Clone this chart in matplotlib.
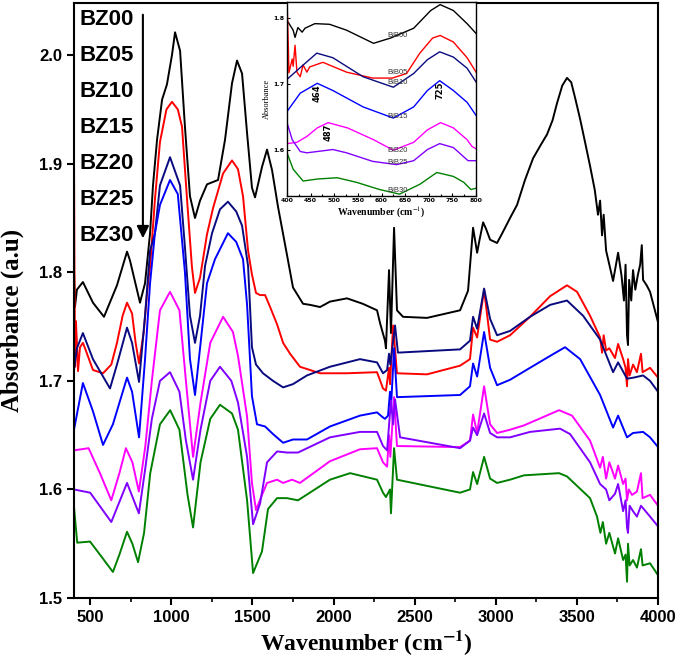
import matplotlib
matplotlib.use("Agg")
import matplotlib.pyplot as plt
from matplotlib.ticker import MultipleLocator

plt.rcParams['mathtext.fontset'] = 'stix'

# main FTIR spectra (wavenumber, absorbance)
bz00_x = [400, 406, 418, 455, 517, 585, 665, 727, 745, 807, 838, 869, 887, 912, 943, 973, 1004, 1023, 1054, 1084,
          1115, 1146, 1177, 1220, 1288, 1331, 1374, 1405, 1436, 1467, 1497, 1516, 1559, 1590, 1621, 1658, 1713,
          1750, 1812, 1855, 1917, 1978, 2083, 2180, 2268, 2287, 2317, 2323, 2342, 2354, 2373, 2391, 2428, 2576,
          2780, 2829, 2860, 2885, 2900, 2922, 2940, 2965, 3008, 3040, 3088, 3131, 3180, 3230, 3280, 3316, 3350,
          3378, 3410, 3439, 3465, 3490, 3520, 3550, 3581, 3610, 3630, 3643, 3655, 3665, 3680, 3700, 3723, 3754,
          3775, 3790, 3800, 3809, 3815, 3822, 3835, 3846, 3860, 3875, 3890, 3900, 3908, 3930, 3951, 4000]
bz00_y = [1.800, 1.768, 1.784, 1.791, 1.772, 1.759, 1.788, 1.819, 1.811, 1.772, 1.790, 1.836, 1.880, 1.922, 1.959,
          1.973, 2.000, 2.021, 2.004, 1.934, 1.870, 1.850, 1.866, 1.881, 1.885, 1.922, 1.974, 1.995, 1.983, 1.928,
          1.878, 1.869, 1.897, 1.913, 1.894, 1.860, 1.816, 1.786, 1.771, 1.770, 1.768, 1.773, 1.776, 1.771, 1.765,
          1.753, 1.737, 1.730, 1.802, 1.744, 1.841, 1.765, 1.759, 1.758, 1.765, 1.783, 1.841, 1.818, 1.830, 1.846,
          1.840, 1.830, 1.827, 1.836, 1.850, 1.862, 1.885, 1.905, 1.918, 1.927, 1.940, 1.956, 1.972, 1.979, 1.975,
          1.960, 1.941, 1.920, 1.898, 1.876, 1.853, 1.866, 1.834, 1.853, 1.820, 1.807, 1.792, 1.818, 1.797, 1.774,
          1.807, 1.742, 1.733, 1.793, 1.774, 1.802, 1.784, 1.797, 1.807, 1.825, 1.793, 1.788, 1.782, 1.754]

bz05_x = [400, 403, 407, 412, 418, 425, 437, 455, 468, 517, 579, 630, 665, 700, 727, 758, 780, 801, 830, 856, 869,
          899, 930, 970, 1004, 1040, 1066, 1097, 1127, 1146, 1177, 1220, 1257, 1319, 1374, 1411, 1442, 1473, 1497,
          1522, 1547, 1578, 1609, 1652, 1689, 1732, 1793, 1917, 2083, 2268, 2305, 2323, 2342, 2348, 2367, 2391,
          2576, 2780, 2841, 2860, 2885, 2928, 2965, 3008, 3088, 3211, 3335, 3439, 3501, 3581, 3643, 3655, 3665,
          3680, 3700, 3735, 3754, 3785, 3800, 3809, 3815, 3825, 3846, 3870, 3895, 3905, 3951, 4000]
bz05_y = [1.911, 1.800, 1.713, 1.755, 1.735, 1.709, 1.731, 1.735, 1.730, 1.710, 1.707, 1.715, 1.735, 1.760, 1.772,
          1.762, 1.735, 1.716, 1.745, 1.790, 1.805, 1.867, 1.920, 1.950, 1.957, 1.950, 1.934, 1.867, 1.805, 1.781,
          1.795, 1.835, 1.859, 1.891, 1.903, 1.895, 1.870, 1.820, 1.798, 1.781, 1.779, 1.779, 1.768, 1.752, 1.735,
          1.725, 1.713, 1.707, 1.707, 1.708, 1.693, 1.691, 1.712, 1.697, 1.751, 1.707, 1.706, 1.714, 1.720, 1.749,
          1.740, 1.784, 1.738, 1.736, 1.742, 1.759, 1.778, 1.788, 1.782, 1.760, 1.740, 1.726, 1.742, 1.728, 1.730,
          1.721, 1.734, 1.720, 1.712, 1.695, 1.720, 1.705, 1.715, 1.708, 1.725, 1.708, 1.712, 1.703]

bz10_x = [400, 418, 455, 517, 622, 665, 727, 758, 801, 838, 869, 899, 930, 992, 1054, 1084, 1115, 1146, 1177, 1208,
          1251, 1300, 1349, 1400, 1436, 1473, 1497, 1522, 1565, 1627, 1689, 1750, 1836, 1978, 2163, 2268, 2305,
          2330, 2342, 2350, 2379, 2397, 2780, 2841, 2860, 2885, 2928, 2965, 3008, 3088, 3211, 3335, 3439, 3538,
          3643, 3723, 3754, 3809, 3850, 3908, 3951, 4000]
bz10_y = [1.710, 1.730, 1.744, 1.720, 1.693, 1.715, 1.749, 1.735, 1.699, 1.760, 1.820, 1.836, 1.880, 1.906, 1.880,
          1.823, 1.760, 1.735, 1.760, 1.806, 1.836, 1.858, 1.865, 1.856, 1.843, 1.806, 1.731, 1.715, 1.707, 1.700,
          1.694, 1.697, 1.705, 1.713, 1.720, 1.717, 1.707, 1.710, 1.725, 1.715, 1.751, 1.726, 1.729, 1.737, 1.759,
          1.748, 1.785, 1.757, 1.742, 1.746, 1.759, 1.770, 1.774, 1.760, 1.738, 1.708, 1.717, 1.702, 1.703, 1.705,
          1.700, 1.690]

bz15_x = [400, 455, 517, 579, 640, 727, 758, 801, 838, 869, 899, 930, 992, 1040, 1084, 1115, 1146, 1177, 1220, 1269,
          1349, 1400, 1442, 1467, 1485, 1497, 1528, 1578, 1627, 1689, 1750, 1836, 1978, 2163, 2268, 2299, 2317,
          2336, 2348, 2354, 2373, 2391, 2780, 2841, 2860, 2885, 2928, 2965, 3008, 3088, 3211, 3335, 3427, 3520,
          3643, 3723, 3754, 3809, 3846, 3908, 3951, 4000]
bz15_y = [1.655, 1.698, 1.672, 1.641, 1.660, 1.703, 1.690, 1.648, 1.720, 1.790, 1.836, 1.862, 1.885, 1.872, 1.800,
          1.720, 1.687, 1.730, 1.790, 1.812, 1.836, 1.828, 1.812, 1.770, 1.720, 1.686, 1.660, 1.658, 1.651, 1.643,
          1.646, 1.646, 1.658, 1.668, 1.671, 1.667, 1.665, 1.668, 1.690, 1.675, 1.730, 1.685, 1.687, 1.695, 1.716,
          1.704, 1.745, 1.712, 1.696, 1.701, 1.712, 1.723, 1.731, 1.720, 1.687, 1.657, 1.668, 1.648, 1.652, 1.653,
          1.648, 1.639]

bz20_x = [400, 490, 560, 630, 680, 720, 760, 800, 840, 880, 930, 992, 1050, 1090, 1134, 1180, 1240, 1319, 1380,
          1411, 1467, 1497, 1522, 1559, 1590, 1652, 1689, 1744, 1793, 1978, 2163, 2268, 2305, 2330, 2342, 2350,
          2373, 2391, 2780, 2841, 2860, 2885, 2928, 2965, 3008, 3088, 3174, 3390, 3470, 3581, 3643, 3660, 3680,
          3700, 3735, 3754, 3785, 3800, 3809, 3820, 3840, 3870, 3895, 3905, 3951, 4000]
bz20_y = [1.636, 1.638, 1.615, 1.590, 1.615, 1.638, 1.625, 1.598, 1.640, 1.700, 1.765, 1.782, 1.765, 1.700, 1.630,
          1.680, 1.735, 1.759, 1.745, 1.723, 1.667, 1.606, 1.581, 1.595, 1.606, 1.609, 1.606, 1.609, 1.606, 1.626,
          1.637, 1.638, 1.625, 1.621, 1.650, 1.630, 1.685, 1.640, 1.639, 1.645, 1.669, 1.652, 1.695, 1.660, 1.652,
          1.655, 1.659, 1.673, 1.668, 1.645, 1.620, 1.630, 1.610, 1.625, 1.610, 1.622, 1.605, 1.610, 1.590, 1.600,
          1.595, 1.598, 1.615, 1.592, 1.595, 1.585]

bz25_x = [400, 500, 630, 727, 800, 840, 880, 930, 992, 1050, 1090, 1134, 1180, 1240, 1300, 1370, 1411, 1467, 1504,
          1547, 1590, 1652, 1713, 1781, 1978, 2163, 2268, 2305, 2330, 2354, 2367, 2379, 2410, 2780, 2841, 2860,
          2885, 2928, 2965, 3008, 3088, 3211, 3396, 3458, 3581, 3643, 3680, 3700, 3735, 3754, 3785, 3800, 3809,
          3815, 3825, 3846, 3870, 3895, 3951, 4000]
bz25_y = [1.600, 1.597, 1.570, 1.606, 1.578, 1.620, 1.665, 1.700, 1.708, 1.690, 1.645, 1.609, 1.655, 1.700, 1.713,
          1.700, 1.680, 1.630, 1.568, 1.587, 1.625, 1.635, 1.634, 1.634, 1.648, 1.653, 1.653, 1.640, 1.636, 1.682,
          1.660, 1.683, 1.648, 1.638, 1.645, 1.657, 1.650, 1.670, 1.652, 1.648, 1.648, 1.653, 1.656, 1.651, 1.625,
          1.605, 1.600, 1.590, 1.596, 1.605, 1.580, 1.590, 1.565, 1.560, 1.585, 1.580, 1.575, 1.585, 1.575, 1.566]

bz30_x = [400, 420, 499, 560, 640, 680, 727, 760, 795, 832, 870, 930, 993, 1050, 1100, 1134, 1180, 1240, 1300, 1374,
          1411, 1467, 1504, 1559, 1596, 1652, 1713, 1781, 1978, 2102, 2268, 2305, 2323, 2348, 2354, 2373, 2391,
          2780, 2841, 2860, 2885, 2928, 2965, 3008, 3088, 3174, 3390, 3439, 3581, 3624, 3645, 3660, 3680, 3700,
          3735, 3754, 3785, 3800, 3809, 3815, 3825, 3846, 3870, 3895, 3905, 3951, 4000]
bz30_y = [1.584, 1.551, 1.552, 1.540, 1.524, 1.540, 1.561, 1.550, 1.533, 1.560, 1.615, 1.660, 1.673, 1.655, 1.595,
          1.565, 1.625, 1.665, 1.678, 1.670, 1.655, 1.590, 1.523, 1.543, 1.582, 1.592, 1.592, 1.590, 1.609, 1.615,
          1.609, 1.597, 1.593, 1.600, 1.578, 1.638, 1.609, 1.597, 1.600, 1.616, 1.605, 1.630, 1.610, 1.606, 1.609,
          1.613, 1.615, 1.612, 1.592, 1.575, 1.560, 1.570, 1.550, 1.560, 1.541, 1.555, 1.535, 1.540, 1.515, 1.550,
          1.530, 1.535, 1.528, 1.545, 1.530, 1.532, 1.521]

# inset 400-800 cm-1
bib00_x = [400, 413, 417, 423, 432, 438, 459, 490, 526, 583, 619, 668, 704, 724, 752, 781, 800]
bib00_y = [1.797, 1.782, 1.771, 1.786, 1.779, 1.785, 1.792, 1.791, 1.782, 1.762, 1.770, 1.785, 1.812, 1.821, 1.812,
           1.792, 1.777]
bib05_x = [400, 403, 404, 411, 413, 417, 421, 428, 434, 442, 448, 476, 526, 581, 623, 653, 681, 708, 724, 752, 781, 800]
bib05_y = [1.830, 1.750, 1.717, 1.738, 1.727, 1.759, 1.718, 1.711, 1.729, 1.718, 1.726, 1.733, 1.718, 1.709, 1.709,
           1.716, 1.747, 1.770, 1.774, 1.764, 1.740, 1.718]
bib10_x = [400, 428, 463, 497, 561, 625, 668, 697, 723, 752, 781, 800]
bib10_y = [1.707, 1.725, 1.747, 1.740, 1.711, 1.695, 1.716, 1.737, 1.749, 1.741, 1.724, 1.703]
bib15_x = [400, 428, 464, 497, 561, 625, 668, 697, 723, 752, 781, 800]
bib15_y = [1.658, 1.686, 1.701, 1.690, 1.665, 1.648, 1.665, 1.690, 1.705, 1.690, 1.672, 1.652]
bib20_x = [400, 421, 442, 464, 487, 528, 583, 625, 668, 697, 725, 752, 781, 791, 800]
bib20_y = [1.609, 1.611, 1.620, 1.633, 1.641, 1.633, 1.615, 1.599, 1.611, 1.630, 1.641, 1.633, 1.615, 1.605, 1.601]
bib25_x = [400, 411, 428, 442, 464, 497, 526, 581, 632, 668, 697, 723, 752, 783, 800]
bib25_y = [1.641, 1.615, 1.597, 1.595, 1.597, 1.600, 1.595, 1.582, 1.577, 1.583, 1.600, 1.609, 1.603, 1.583, 1.583]
bib30_x = [400, 413, 434, 464, 506, 547, 596, 638, 681, 717, 752, 774, 789, 800]
bib30_y = [1.595, 1.570, 1.552, 1.555, 1.557, 1.550, 1.539, 1.532, 1.547, 1.565, 1.559, 1.550, 1.539, 1.541]

names = ['BZ00', 'BZ05', 'BZ10', 'BZ15', 'BZ20', 'BZ25', 'BZ30']
inset_names = ['BiB00', 'BiB05', 'BiB10', 'BiB15', 'BiB20', 'BiB25', 'BiB30']
colors = ['black', '#ff0000', '#0a0a80', '#0000ff', '#ff00ff', '#8000ff', '#008000']
inset_label_y = [1.774, 1.717, 1.702, 1.650, 1.599, 1.580, 1.538]

main = [(bz00_x, bz00_y), (bz05_x, bz05_y), (bz10_x, bz10_y), (bz15_x, bz15_y),
        (bz20_x, bz20_y), (bz25_x, bz25_y), (bz30_x, bz30_y)]
ins = [(bib00_x, bib00_y), (bib05_x, bib05_y), (bib10_x, bib10_y), (bib15_x, bib15_y),
       (bib20_x, bib20_y), (bib25_x, bib25_y), (bib30_x, bib30_y)]

fig = plt.figure(figsize=(6.85, 6.67), dpi=100)
ax = fig.add_axes([0.108, 0.1034, 0.8526, 0.8921])

for (x, y), c in zip(main, colors):
    ax.plot(x, y, color=c, lw=1.4)

ax.set_xlim(400, 4000)
ax.set_ylim(1.5, 2.048)
ax.xaxis.set_major_locator(MultipleLocator(500))
ax.xaxis.set_minor_locator(MultipleLocator(250))
ax.yaxis.set_major_locator(MultipleLocator(0.1))
ax.tick_params(which='major', direction='out', length=5, width=1.5, top=False, right=False)
ax.tick_params(which='minor', direction='out', length=3, width=1.2, top=False, right=False)
for s in ax.spines.values():
    s.set_linewidth(1.5)
for lab in ax.get_xticklabels() + ax.get_yticklabels():
    lab.set_fontfamily('Liberation Sans')
    lab.set_fontweight('bold')
    lab.set_fontsize(12)
ax.set_yticklabels(['%.1f' % v for v in ax.get_yticks()])

ax.set_xlabel(r'Wavenumber (cm$^{\mathbf{-1}}$)', fontfamily='Liberation Serif', fontweight='bold',
              fontsize=17, labelpad=2)
ax.set_ylabel('Absorbance (a.u)', fontfamily='Liberation Serif', fontweight='bold', fontsize=18, labelpad=6)
ax.yaxis.set_label_coords(-0.085, 0.466)

# sample list with arrow
for i, n in enumerate(names):
    ax.text(0.010, 0.973 - i * 0.0607, n, transform=ax.transAxes, fontfamily='Liberation Sans',
            fontweight='bold', fontsize=16, va='center', ha='left')
ax.annotate('', xy=(0.118, 0.600), xytext=(0.118, 0.985), xycoords='axes fraction',
            arrowprops=dict(arrowstyle='-|>', color='black', lw=1.5, mutation_scale=18))

# inset
axi = fig.add_axes([0.419, 0.706, 0.276, 0.291])
for (x, y), c in zip(ins, colors):
    axi.plot(x, y, color=c, lw=1.0)
for n, yy in zip(inset_names, inset_label_y):
    axi.text(633, yy, n, fontsize=5.5, fontfamily='Liberation Sans', color='#333333', ha='center', va='center')
axi.text(463, 1.686, '464', rotation=90, fontsize=6, fontweight='bold', ha='center', va='center')
axi.text(487, 1.627, '487', rotation=90, fontsize=6, fontweight='bold', ha='center', va='center')
axi.text(724, 1.691, '725', rotation=90, fontsize=6, fontweight='bold', ha='center', va='center')
axi.set_xlim(400, 800)
axi.set_ylim(1.529, 1.825)
axi.xaxis.set_major_locator(MultipleLocator(50))
axi.xaxis.set_minor_locator(MultipleLocator(25))
axi.yaxis.set_major_locator(MultipleLocator(0.1))
axi.tick_params(which='both', direction='in', labelsize=4.5, length=2.5, width=0.8, pad=1.5)
axi.tick_params(which='minor', length=1.5)
for lab in axi.get_xticklabels() + axi.get_yticklabels():
    lab.set_fontweight('bold')
axi.set_yticklabels(['%.1f' % v for v in axi.get_yticks()])
for s in axi.spines.values():
    s.set_linewidth(1.0)
axi.set_xlabel(r'Wavenumber (cm$^{-1}$)', fontfamily='Liberation Serif', fontweight='bold', fontsize=7, labelpad=1)
axi.set_ylabel('Absorbance', fontfamily='Liberation Serif', fontsize=6, labelpad=2)

fig.savefig('out.png', dpi=100)
